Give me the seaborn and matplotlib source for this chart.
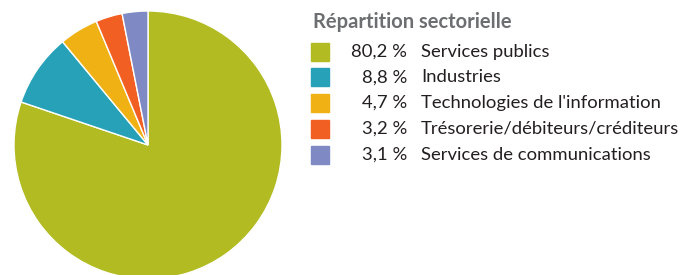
import seaborn as sns
import matplotlib
matplotlib.use("Agg")
import matplotlib.pyplot as plt
from matplotlib.patches import Rectangle

sns.set_style("white")

sectors = ["Services publics", "Industries", "Technologies de l'information",
           "Trésorerie/débiteurs/créditeurs", "Services de communications"]
shares = [80.2, 8.8, 4.7, 3.2, 3.1]
colors = ["#B2BC22", "#26A1B8", "#F0B114", "#F25F22", "#7F8AC4"]
title = "Répartition sectorielle"

plt.rcParams["font.family"] = ["Lato", "DejaVu Sans"]

W, H = 683, 275
fig = plt.figure(figsize=(W / 100, H / 100), dpi=100)

cx, cy, r = 148, 145, 134
ax = fig.add_axes([(cx - r) / W, (H - cy - r) / H, 2 * r / W, 2 * r / H])
ax.pie(shares, colors=colors, startangle=90, counterclock=False,
       wedgeprops=dict(edgecolor="white", linewidth=1), radius=1)
ax.set_xlim(-1, 1)
ax.set_ylim(-1, 1)
ax.axis("off")

renderer = fig.canvas.get_renderer()


def fit(t, target_px):
    # shrink/grow a text so its width matches the reference
    w = t.get_window_extent(renderer).width
    t.set_fontsize(t.get_fontsize() * target_px / w)


t = fig.text(313 / W, 1 - 22 / H, title, fontsize=14, fontweight="bold",
             color="#6D6E71", va="center", ha="left")
fit(t, 200)

for i, (name, val, col) in enumerate(zip(sectors, shares, colors)):
    y = 51.5 + i * 25.8
    fig.patches.append(Rectangle((311 / W, 1 - (y + 9) / H), 18 / W, 18 / H,
                                 transform=fig.transFigure, color=col))
    p = fig.text(407 / W, 1 - y / H, f"{val:.1f} %".replace(".", ","), fontsize=14,
                 color="#231F20", va="center", ha="right")
    n = fig.text(421 / W, 1 - y / H, name, fontsize=14, color="#231F20",
                 va="center", ha="left")
    if i == 2:
        ref = n
fit(ref, 241)
size = ref.get_fontsize()
for t in fig.texts[1:]:
    t.set_fontsize(size)

fig.savefig("out.png", dpi=100)
